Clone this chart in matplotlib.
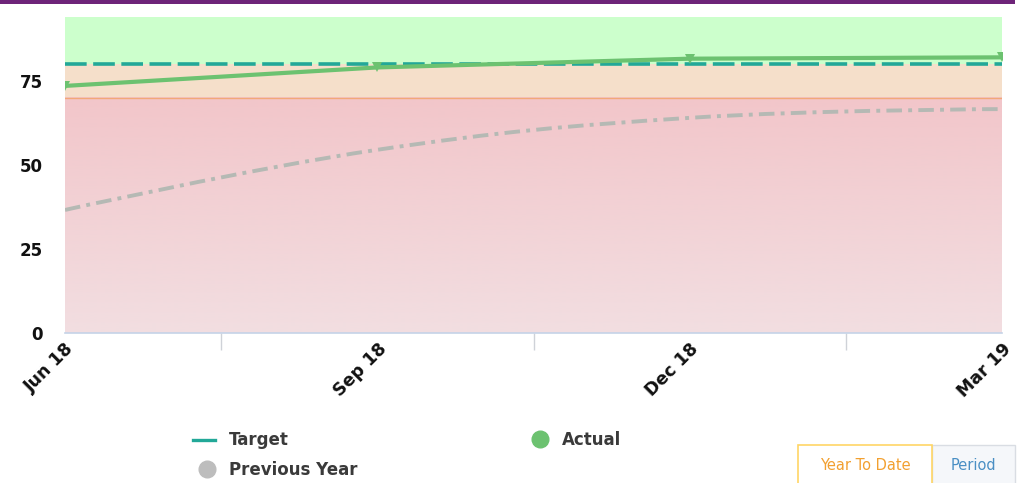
import matplotlib.pyplot as plt
import numpy as np
from matplotlib.path import Path
from matplotlib.patches import PathPatch, Rectangle
from matplotlib.lines import Line2D

# Quarterly series
periods = ["Jun 18", "Sep 18", "Dec 18", "Mar 19"]
actual = [73.5, 79.0, 81.6, 82.0]
previous_year = [36.6, 54.5, 64.0, 66.6]
target = [80, 80, 80, 80]

# Performance bands
red_limit = 70
green_limit = 80
y_max = 94
y_ticks = [0, 25, 50, 75]


def spline_path(xs, ys, smoothing=1.5):
    # cubic bezier path through the points, same control point rule as a spline series
    xs = np.asarray(xs, float)
    ys = np.asarray(ys, float)
    n = len(xs)
    ctrl = []
    for i in range(n):
        if i == 0 or i == n - 1:
            ctrl.append(((xs[i], ys[i]), (xs[i], ys[i])))
            continue
        d = smoothing + 1
        lx = (smoothing * xs[i] + xs[i - 1]) / d
        ly = (smoothing * ys[i] + ys[i - 1]) / d
        rx = (smoothing * xs[i] + xs[i + 1]) / d
        ry = (smoothing * ys[i] + ys[i + 1]) / d
        corr = ((ry - ly) * (rx - xs[i])) / (rx - lx) + ys[i] - ry
        ctrl.append(((lx, ly + corr), (rx, ry + corr)))
    verts = [(xs[0], ys[0])]
    codes = [Path.MOVETO]
    for i in range(1, n):
        verts += [ctrl[i - 1][1], ctrl[i][0], (xs[i], ys[i])]
        codes += [Path.CURVE4] * 3
    return Path(verts, codes)


fig = plt.figure(figsize=(10.19, 4.83), dpi=100)
ax = fig.add_axes([65 / 1019, 1 - 333 / 483, 937 / 1019, 316 / 483])

x = np.arange(len(periods))
x0, x1 = x[0], x[-1]

# background bands
ax.axhspan(green_limit, y_max, color="#ccffcc", zorder=0, lw=0)
ax.axhspan(red_limit, green_limit, color="#f5dfca", zorder=0, lw=0)
grad = np.linspace(0, 1, 256).reshape(-1, 1, 1)
top_c = np.array([242, 198, 202]) / 255
bot_c = np.array([242, 222, 225]) / 255
img = top_c * (1 - grad) + bot_c * grad
ax.imshow(img, extent=[x0, x1, 0, red_limit], origin="upper", aspect="auto",
          zorder=0.5, interpolation="bilinear")
ax.axhline(red_limit, color="#f2a878", lw=1, zorder=1)

# series
ax.plot(x, target, color="#22a898", lw=2.6, dashes=(6, 1.8), zorder=3)
ax.add_patch(PathPatch(spline_path(x, previous_year), fill=False,
                       edgecolor="#b5b9b4", lw=2.8, linestyle=(0, (4, 1.6, 1, 1.6)),
                       zorder=2))
ax.plot(x, actual, color="#6cc270", lw=3, marker="v", markersize=7.5,
        markeredgewidth=0, zorder=4)

ax.set_xlim(x0, x1)
ax.set_ylim(0, y_max)
ax.set_yticks(y_ticks)
ax.set_yticklabels([str(v) for v in y_ticks], fontsize=12, fontweight="bold",
                   color="#111111")
ax.tick_params(axis="y", length=0, pad=16)

ax.set_xticks(x)
ax.set_xticklabels(periods, rotation=45, ha="right", va="top",
                   rotation_mode="anchor", fontsize=12.5, fontweight="bold",
                   color="#111111")
ax.tick_params(axis="x", length=0, pad=5)
ax.set_xticks(x[:-1] + 0.5, minor=True)
ax.tick_params(axis="x", which="minor", length=12, color="#cfd2d8", width=1)

for s in ["top", "right", "left"]:
    ax.spines[s].set_visible(False)
ax.spines["bottom"].set_color("#c5d3e8")
ax.spines["bottom"].set_linewidth(1.2)

# purple header rule
fig.add_artist(Rectangle((0, 1 - 4 / 483), 1015 / 1019, 4 / 483,
                         transform=fig.transFigure, color="#6e2479", lw=0))

# legend
def px(xp, yp):
    return xp / 1019, 1 - yp / 483

legend_font = dict(fontsize=12, fontweight="bold", color="#3a3a3a", va="center")
fig.add_artist(Line2D([193 / 1019, 215 / 1019], [1 - 440 / 483] * 2,
                      color="#22a898", lw=2.4, transform=fig.transFigure))
fig.text(*px(229, 440), "Target", **legend_font)
fig.add_artist(Line2D([540 / 1019], [1 - 439 / 483], marker="o", markersize=12,
                      color="#6cc270", lw=0, transform=fig.transFigure))
fig.text(*px(562, 440), "Actual", **legend_font)
fig.add_artist(Line2D([207 / 1019], [1 - 469 / 483], marker="o", markersize=12,
                      color="#bdbdbd", lw=0, transform=fig.transFigure))
fig.text(*px(229, 470), "Previous Year", **legend_font)

# period toggle buttons
fig.add_artist(Rectangle(px(932, 490), 83 / 1019, 45 / 483,
                         transform=fig.transFigure, facecolor="#f5f7fa",
                         edgecolor="#d9dde3", lw=1))
fig.add_artist(Rectangle(px(798, 490), 134 / 1019, 45 / 483,
                         transform=fig.transFigure, facecolor="white",
                         edgecolor="#ffd666", lw=1.2))
fig.text(*px(865, 465), "Year To Date", fontsize=10.5, color="#f2a030",
         ha="center", va="center")
fig.text(*px(973, 465), "Period", fontsize=10.5, color="#4a8fc4",
         ha="center", va="center")

fig.savefig("out.png", dpi=100)
